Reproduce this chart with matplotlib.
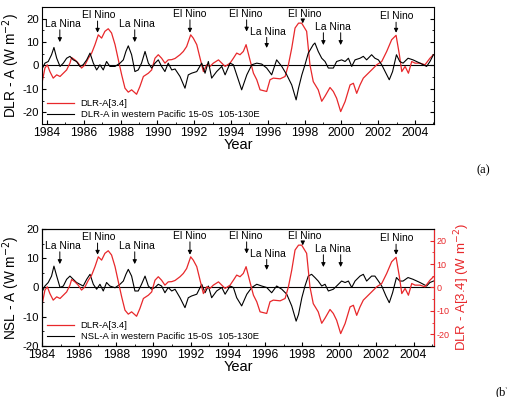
import numpy as np
import matplotlib
matplotlib.use("Agg")
import matplotlib.pyplot as plt
import matplotlib.transforms as mtransforms
from matplotlib.ticker import MultipleLocator

plt.rcParams['font.family'] = ['Liberation Sans', 'DejaVu Sans']
plt.rcParams['axes.unicode_minus'] = False

# DLR anomaly, Nino 3.4 region (shared by both panels)
red_t = [1983.71, 1983.89, 1984.02, 1984.16, 1984.34, 1984.53, 1984.71, 1984.89, 1985.07, 1985.25,
         1985.34, 1985.52, 1985.70, 1985.88, 1986.07, 1986.25, 1986.43, 1986.61, 1986.79, 1986.97,
         1987.15, 1987.33, 1987.51, 1987.70, 1987.88, 1988.06, 1988.24, 1988.42, 1988.60, 1988.87,
         1989.05, 1989.24, 1989.51, 1989.69, 1989.87, 1990.05, 1990.23, 1990.41, 1990.59, 1990.78,
         1990.96, 1991.23, 1991.41, 1991.59, 1991.81, 1991.95, 1992.14, 1992.32, 1992.50, 1992.68,
         1992.86, 1993.04, 1993.32, 1993.50, 1993.68, 1993.95, 1994.13, 1994.31, 1994.49, 1994.67,
         1994.82, 1995.03, 1995.22, 1995.40, 1995.58, 1995.94, 1996.12, 1996.30, 1996.67, 1996.94,
         1997.12, 1997.30, 1997.48, 1997.67, 1997.84, 1998.11, 1998.29, 1998.47, 1998.74, 1998.93,
         1999.11, 1999.38, 1999.56, 1999.74, 1999.96, 2000.20, 2000.47, 2000.65, 2000.83, 2001.01,
         2001.19, 2001.37, 2001.64, 2001.92, 2002.19, 2002.46, 2002.73, 2002.97, 2003.15, 2003.28,
         2003.46, 2003.64, 2003.82, 2004.00, 2004.27, 2004.54, 2004.81, 2005.00]
red_v = [-8.3, -1.1, 0.3, -2.6, -5.4, -4.0, -4.7, -3.3, -1.9, 1.0,
         3.4, 2.4, 1.0, -1.1, 0.3, 3.1, 5.3, 8.9, 13.1, 11.7,
         14.6, 15.7, 13.9, 8.9, 2.4, -4.0, -9.7, -11.4, -10.4, -12.3,
         -9.0, -4.7, -3.3, -1.9, 3.1, 4.6, 3.1, 1.0, 2.4, 2.5,
         3.0, 4.6, 6.0, 8.1, 13.1, 11.7, 8.9, 3.1, -2.6, 0.3,
         -0.4, 1.0, 2.4, 1.0, -0.4, 1.0, 3.1, 5.3, 4.6, 6.0,
         8.9, 2.4, -3.3, -6.1, -10.4, -11.1, -6.1, -5.4, -5.7, -4.7,
         0.3, 7.4, 16.0, 18.1, 18.1, 14.6, 0.3, -6.9, -10.4, -15.3,
         -13.1, -9.4, -11.1, -14.0, -19.7, -15.4, -8.3, -7.6, -11.9, -8.3,
         -5.4, -4.0, -1.9, 0.3, 1.7, 6.0, 11.0, 12.9, 4.6, -2.6,
         -0.4, -3.3, 1.7, 1.0, 1.0, 0.3, 3.1, 4.6]

# DLR anomaly, western Pacific
wp_t = [1983.71, 1983.89, 1984.07, 1984.25, 1984.38, 1984.53, 1984.71, 1984.89, 1985.07, 1985.25,
        1985.43, 1985.61, 1985.79, 1985.97, 1986.16, 1986.34, 1986.52, 1986.70, 1986.88, 1987.06,
        1987.24, 1987.42, 1987.70, 1987.97, 1988.15, 1988.29, 1988.42, 1988.60, 1988.78, 1988.96,
        1989.14, 1989.33, 1989.51, 1989.69, 1989.87, 1990.05, 1990.23, 1990.41, 1990.59, 1990.78,
        1990.96, 1991.23, 1991.50, 1991.68, 1991.86, 1992.14, 1992.41, 1992.59, 1992.77, 1992.95,
        1993.22, 1993.50, 1993.68, 1993.95, 1994.13, 1994.31, 1994.58, 1994.86, 1995.13, 1995.40,
        1995.67, 1995.94, 1996.21, 1996.48, 1996.76, 1997.03, 1997.30, 1997.54, 1997.67, 1997.85,
        1998.02, 1998.20, 1998.47, 1998.56, 1998.74, 1998.93, 1999.11, 1999.29, 1999.56, 1999.74,
        2000.01, 2000.20, 2000.38, 2000.56, 2000.74, 2001.01, 2001.19, 2001.37, 2001.64, 2001.82,
        2002.01, 2002.19, 2002.42, 2002.60, 2002.78, 2002.99, 2003.17, 2003.35, 2003.62, 2003.89,
        2004.27, 2004.63, 2004.81, 2005.00]
dlr_wp = [-1.9, 1.0, 1.7, 4.6, 7.7, 3.1, -0.4, 1.0, 3.1, 3.9,
          2.4, 1.7, -0.4, 0.3, 2.4, 5.3, 1.0, -1.9, 0.3, -1.9,
          1.7, -0.4, -0.4, 1.0, 2.4, 6.0, 8.4, 4.6, -2.6, -1.9,
          1.0, 6.0, 1.0, -1.1, 1.0, 2.4, -0.4, -2.6, 1.0, -1.9,
          -1.5, -4.7, -9.7, -4.0, -3.3, -2.6, 1.0, -3.3, 1.7, -5.4,
          -2.6, -0.4, -4.0, 1.0, 0.3, -4.0, -10.4, -4.0, 0.3, 1.0,
          0.6, -1.1, -4.0, 2.4, -0.4, -4.0, -8.3, -14.7, -9.7, -4.0,
          0.3, 5.3, 8.9, 9.6, 6.0, 3.1, 1.7, -1.1, -1.1, 1.7,
          2.4, 1.7, 3.1, -0.4, 2.4, 3.1, 3.9, 2.4, 4.6, 3.1,
          2.4, 0.3, -3.3, -6.1, -2.6, 4.6, 1.7, 1.0, 3.1, 2.4,
          1.0, -0.4, 1.7, 4.6]

# NSL anomaly, western Pacific
nsl_t = [1983.71, 1983.89, 1984.07, 1984.25, 1984.38, 1984.53, 1984.71, 1984.89, 1985.07, 1985.25,
         1985.43, 1985.61, 1985.79, 1985.97, 1986.16, 1986.34, 1986.52, 1986.70, 1986.88, 1987.06,
         1987.24, 1987.42, 1987.70, 1987.97, 1988.15, 1988.29, 1988.42, 1988.60, 1988.78, 1988.96,
         1989.14, 1989.33, 1989.51, 1989.69, 1989.87, 1990.05, 1990.23, 1990.41, 1990.59, 1990.78,
         1990.96, 1991.23, 1991.50, 1991.68, 1991.86, 1992.14, 1992.41, 1992.59, 1992.77, 1992.95,
         1993.22, 1993.50, 1993.68, 1993.95, 1994.13, 1994.31, 1994.58, 1994.86, 1995.13, 1995.40,
         1995.67, 1995.94, 1996.21, 1996.48, 1996.76, 1997.03, 1997.30, 1997.54, 1997.67, 1997.85,
         1998.02, 1998.20, 1998.38, 1998.56, 1998.74, 1998.93, 1999.11, 1999.29, 1999.56, 1999.74,
         2000.01, 2000.20, 2000.38, 2000.56, 2000.74, 2001.01, 2001.19, 2001.37, 2001.64, 2001.82,
         2002.01, 2002.19, 2002.42, 2002.60, 2002.78, 2002.99, 2003.17, 2003.35, 2003.62, 2003.89,
         2004.27, 2004.63, 2004.81, 2005.00]
nsl_wp = [-1.8, 0.5, 1.7, 3.9, 7.3, 3.9, 0.0, 0.5, 2.8, 3.9,
          2.8, 1.7, 1.1, 0.5, 2.8, 4.5, 1.1, -0.6, 1.1, -1.2,
          1.7, 0.5, -0.1, 1.1, 2.2, 4.5, 6.2, 3.9, -1.2, -1.2,
          1.1, 3.9, 0.5, -0.6, 0.0, 1.1, 0.5, -1.8, 0.0, -1.2,
          -0.6, -3.5, -6.9, -3.5, -2.9, -2.3, 1.1, -1.8, 0.5, -3.5,
          -1.2, 0.0, -2.3, 0.5, 0.0, -3.5, -6.3, -2.3, 0.0, 1.1,
          0.5, 0.0, -1.8, 0.5, -0.6, -2.3, -6.3, -11.5, -9.2, -3.5,
          0.5, 3.9, 4.5, 3.4, 2.2, 0.5, 1.1, -1.2, -0.6, 0.5,
          2.2, 1.7, 2.2, 0.0, 2.2, 3.9, 4.5, 2.2, 3.9, 3.9,
          2.2, 0.5, -2.9, -5.2, -1.8, 3.4, 2.2, 2.2, 3.4, 2.8,
          1.7, 0.5, 1.7, 2.2]

# ENSO event markers
ev_labels = ['La Nina', 'El Nino', 'La Nina', 'El Nino', 'El Nino', 'La Nina', 'El Nino', 'La Nina', 'El Nino']
ev_text_x = [1984.87, 1986.83, 1988.90, 1991.77, 1994.80, 1996.00, 1998.02, 1999.53, 2003.00]
ev_arrow_x = [[1984.70], [1986.75], [1988.77], [1991.77], [1994.85], [1995.94], [1997.90],
              [1999.02, 1999.96], [2002.97]]
ev_text_y = [0.855, 0.93, 0.855, 0.94, 0.94, 0.79, 0.94, 0.83, 0.92]
ev_tip_y = [0.70, 0.78, 0.70, 0.78, 0.79, 0.65, 0.86, 0.675, 0.78]

RED = '#e8282b'
TOP_XLIM = (1983.73, 2005.03)
BOT_XLIM = (1984.0, 2005.1)
SERIF = ['Liberation Serif', 'DejaVu Serif']


def to_bottom(t):
    # the lower panel has the same curves but a shifted year axis
    t = np.asarray(t, dtype=float)
    return BOT_XLIM[0] + (t - TOP_XLIM[0]) * (BOT_XLIM[1] - BOT_XLIM[0]) / (TOP_XLIM[1] - TOP_XLIM[0])


def add_events(ax, conv):
    trans = mtransforms.blended_transform_factory(ax.transData, ax.transAxes)
    for lab, tx, ty, arrows, tip in zip(ev_labels, ev_text_x, ev_text_y, ev_arrow_x, ev_tip_y):
        ax.text(conv(tx), ty, lab, transform=trans, ha='center', va='center', fontsize=7.5)
        for xa in arrows:
            ax.annotate('', xy=(conv(xa), tip), xytext=(conv(xa), ty - 0.05),
                        xycoords=trans, textcoords=trans,
                        arrowprops=dict(arrowstyle='-|>', color='k', lw=0.7,
                                        mutation_scale=6, shrinkA=0, shrinkB=0))


def style_axes(ax, xlim):
    ax.set_xlim(*xlim)
    ax.set_xticks(np.arange(1984, 2005, 2))
    ax.xaxis.set_minor_locator(MultipleLocator(1))
    ax.set_yticks([-20, -10, 0, 10, 20])
    ax.yaxis.set_minor_locator(MultipleLocator(5))
    ax.set_xlabel('Year', fontsize=10.5, labelpad=-1)
    ax.tick_params(which='both', direction='in', pad=2)
    ax.tick_params(axis='x', labelsize=8.8, pad=2.5)
    ax.tick_params(axis='y', labelsize=8.2)
    ax.tick_params(which='major', length=3)
    ax.tick_params(which='minor', length=1.5)
    ax.yaxis.set_label_coords(-0.052, 0.5)


fig = plt.figure(figsize=(5.07, 3.97), dpi=100)

# ---- panel (a)
ax1 = fig.add_axes([0.0828, 0.6877, 0.7732, 0.2947])
ax1.axhline(0, color='k', lw=0.8)
ax1.plot(red_t, red_v, color=RED, lw=0.9, label='DLR-A[3.4]')
ax1.plot(wp_t, dlr_wp, color='k', lw=0.8, label='DLR-A in western Pacific 15-0S  105-130E')
ax1.set_ylim(-25, 25)
style_axes(ax1, TOP_XLIM)
ax1.tick_params(axis='y', which='both', right=True)
ax1.set_ylabel('DLR - A (W m$^{-2}$)', fontsize=9.8)
ax1.legend(loc='lower left', frameon=False, fontsize=6.8, handlelength=2.9,
           handletextpad=0.7, labelspacing=0.25, borderpad=0.2, borderaxespad=0.3)
add_events(ax1, lambda t: t)
fig.text(0.94, 0.572, '(a)', family=SERIF, fontsize=9, ha='left', va='center')

# ---- panel (b)
ax2 = fig.add_axes([0.0828, 0.1285, 0.7732, 0.2947])
ax2.axhline(0, color='k', lw=0.8)
l1, = ax2.plot(to_bottom(nsl_t), nsl_wp, color='k', lw=0.8,
               label='NSL-A in western Pacific 15-0S  105-130E')
ax2.set_ylim(-20, 20)
style_axes(ax2, BOT_XLIM)
ax2.set_ylabel('NSL - A (W m$^{-2}$)', fontsize=9.8)

ax3 = ax2.twinx()
l2, = ax3.plot(to_bottom(red_t), red_v, color=RED, lw=0.9, label='DLR-A[3.4]')
ax3.set_ylim(-25, 25)
ax3.set_yticks([-20, -10, 0, 10, 20])
ax3.yaxis.set_minor_locator(MultipleLocator(5))
ax3.tick_params(which='both', direction='in', colors=RED, labelsize=6.5, pad=2)
ax3.tick_params(which='major', length=3)
ax3.tick_params(which='minor', length=1.5)
ax3.spines['right'].set_color(RED)
ax3.set_ylabel('DLR - A[3.4] (W m$^{-2}$)', color=RED, fontsize=9.5, labelpad=2)
ax3.legend([l2, l1], [l2.get_label(), l1.get_label()], loc='lower left', frameon=False,
           fontsize=6.8, handlelength=2.9, handletextpad=0.7, labelspacing=0.25,
           borderpad=0.2, borderaxespad=0.3)
add_events(ax3, to_bottom)
fig.text(0.978, 0.013, '(b)', family=SERIF, fontsize=9, ha='left', va='center')

fig.savefig('out.png', dpi=100)
